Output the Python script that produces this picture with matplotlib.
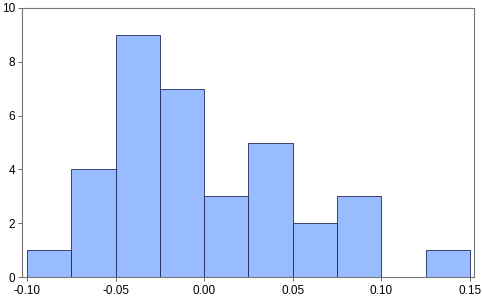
import matplotlib
matplotlib.use("Agg")
import matplotlib.pyplot as plt
import numpy as np

plt.rcParams['font.family'] = ['Liberation Sans', 'DejaVu Sans']

# histogram bins (left edges) and counts
bin_edges = [-0.100, -0.075, -0.050, -0.025, 0.000, 0.025, 0.050, 0.075, 0.100, 0.125, 0.150]
counts = [1, 4, 9, 7, 3, 5, 2, 3, 0, 1]
x_ticks = [-0.10, -0.05, 0.00, 0.05, 0.10, 0.15]
x_labels = ['-0.10', '-0.05', '0.00', '0.05', '0.10', '0.15']
y_ticks = [0, 2, 4, 6, 8, 10]

fig = plt.figure(figsize=(4.82, 2.96), dpi=100)
ax = fig.add_axes([22 / 482, 1 - 277 / 296, (474 - 22) / 482, (277 - 8) / 296])

lefts = np.array(bin_edges[:-1])
widths = np.diff(bin_edges)
ax.bar(lefts, counts, width=widths, align='edge', color='#99bbff',
       edgecolor='#1f2a55', linewidth=0.6)

ax.set_xlim(-0.1028, 0.1523)
ax.set_ylim(0, 10)
ax.set_xticks(x_ticks)
ax.set_xticklabels(x_labels)
ax.set_yticks(y_ticks)
ax.tick_params(axis='both', labelsize=8.5, length=3, width=0.6, color='#555555')
ax.tick_params(axis='x', pad=2.5)
ax.tick_params(axis='y', pad=2)
for s in ax.spines.values():
    s.set_color('#777777')
    s.set_linewidth(0.8)

fig.savefig('out.png', dpi=100)
